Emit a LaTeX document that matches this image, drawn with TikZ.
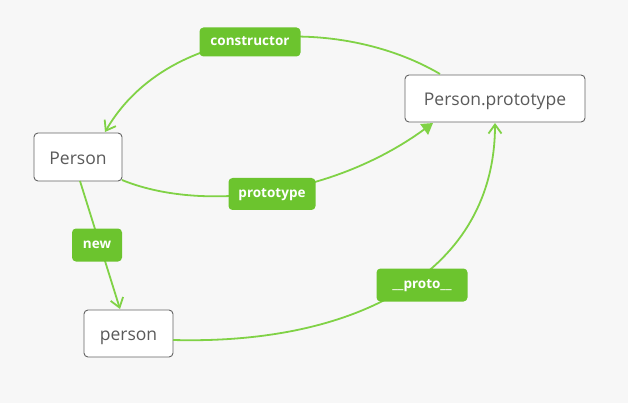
\documentclass[tikz,border=0pt]{standalone}
\usepackage{fontspec}
\setmainfont{Open Sans}
\usetikzlibrary{arrows.meta}
\definecolor{bgc}{RGB}{247,247,247}
\definecolor{lblc}{RGB}{108,196,46}
\definecolor{edgec}{RGB}{128,210,70}
\definecolor{boxtext}{RGB}{90,90,90}
\definecolor{boxline}{RGB}{100,100,100}
\tikzset{
  box/.style={draw=boxline, line width=0.9pt, fill=white, rounded corners=4pt,
    font=\fontsize{17.5}{20}\selectfont, text=boxtext, inner sep=0pt,
    text height=15pt, text depth=0.6pt},
  lbl/.style={fill=lblc, rounded corners=4pt, text=white,
    font=\bfseries\fontsize{13.5}{15}\selectfont, inner sep=0pt,
    text height=8pt, text depth=0.5pt},
  edge/.style={draw=edgec, line width=1.8pt},
  openarr/.style={-{Straight Barb[length=9pt,width=13pt,line width=1.8pt]}},
  filarr/.style={-{Triangle[length=11pt,width=13pt]}}
}
\begin{document}
\begin{tikzpicture}[x=1pt,y=-1pt]
\fill[bgc] (0,0) rectangle (628,403);
\useasboundingbox (0,0) rectangle (628,403);
% boxes
\node[box, minimum width=88pt, minimum height=48pt] (P) at (78,157) {Person};
\node[box, minimum width=180pt, minimum height=47pt] (PP) at (495,98.5) {Person.prototype};
\node[box, minimum width=89pt, minimum height=47pt] (p) at (128.5,333.5) {person};
% connector anchors
\coordinate (c1s) at (440,74);
\coordinate (c1e) at (105,132);
\coordinate (c2s) at (122,180);
\coordinate (c2e) at (433,123);
\coordinate (c3s) at (80,181);
\coordinate (c3e) at (120,309);
\coordinate (c4s) at (173,340);
\coordinate (c4e) at (495,123);
% edges
\draw[edge, openarr] (c1s) .. controls (340,15) and (170,20) .. (c1e);
\draw[edge, filarr] (c2s) .. controls (200,212) and (330,198) .. (c2e);
\draw[edge, openarr] (c3s) -- (c3e);
\draw[edge, openarr] (c4s) .. controls (360,345) and (495,270) .. (c4e);
% labels
\node[lbl, minimum width=101pt, minimum height=29pt] (l1) at (250,42) {constructor};
\node[lbl, minimum width=87pt, minimum height=32pt] (l2) at (272,194) {prototype};
\node[lbl, minimum width=50pt, minimum height=33pt] (l3) at (97,245) {new};
\node[lbl, minimum width=91pt, minimum height=33pt] (l4) at (422,285) {\_\_proto\_\_};
\end{tikzpicture}
\end{document}
